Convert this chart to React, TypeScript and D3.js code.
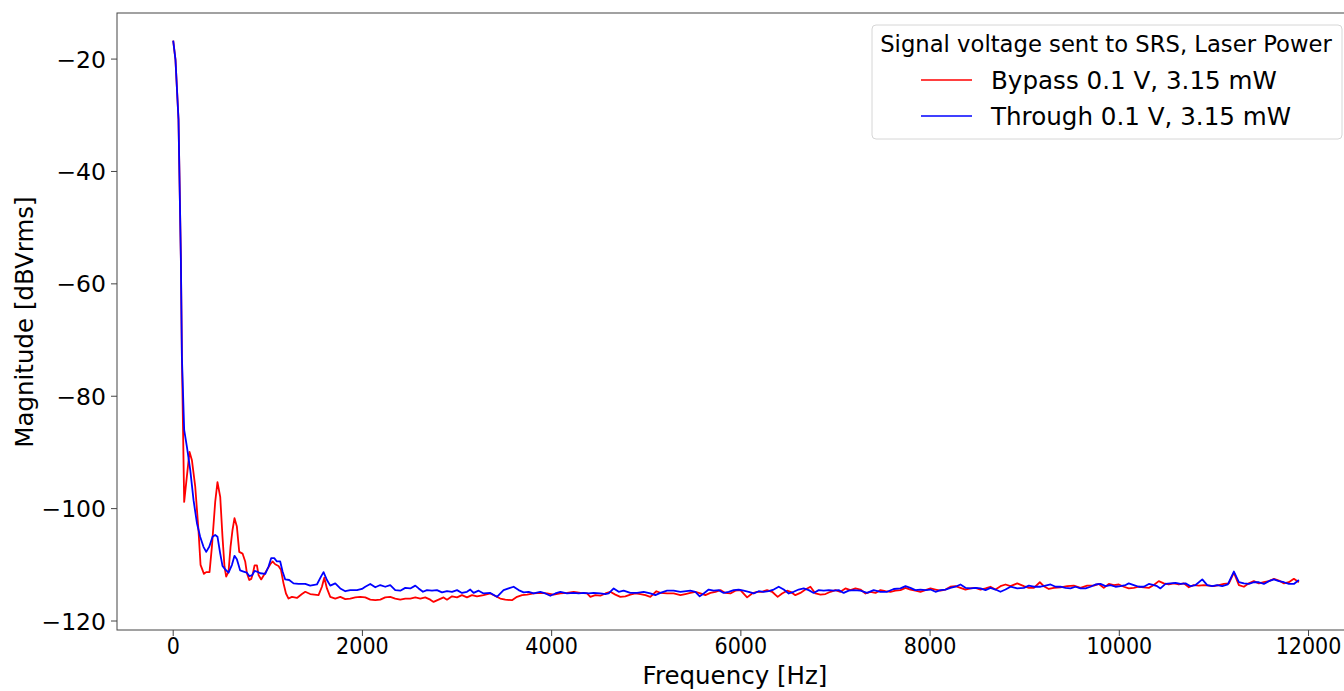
import React from "react";
import * as d3 from "d3";

// ---- data ----
const bypassFreq = [
  0, 24, 56, 81, 92, 116, 172, 198, 233, 267, 289, 325, 349, 384, 409, 444, 468, 497, 521, 542, 560, 585, 606, 627, 648, 673, 698, 733, 761, 779, 804, 825, 843, 860, 885, 902, 930, 959, 991, 1026, 1050, 1078, 1113, 1139, 1166, 1192, 1219, 1255, 1308, 1361, 1396,
  1448, 1536, 1572, 1597, 1625, 1660, 1713, 1766, 1819, 1871, 1924, 1977, 2030, 2083, 2136, 2189, 2241, 2294, 2347, 2400, 2453, 2506, 2559, 2612, 2664, 2717, 2752, 2805, 2858, 2894, 2947, 3000, 3052, 3105, 3158, 3211, 3281, 3352,
  3457, 3510, 3581, 3634, 3687, 3740, 3810, 3880, 3951, 4021, 4092, 4163, 4233, 4303, 4374, 4409, 4462, 4515, 4568, 4620, 4673, 4726, 4779, 4832, 4885, 4938, 4991, 5043, 5107, 5149, 5220, 5290, 5361,
  5413, 5466, 5519, 5572, 5625, 5678, 5731, 5784, 5836, 5889, 5942, 5995, 6066, 6119, 6171, 6224, 6277, 6330, 6389, 6436, 6489, 6524, 6576, 6629, 6682, 6735, 6788, 6841, 6894, 6947, 7000, 7052, 7105, 7158, 7211, 7264, 7317, 7370, 7423, 7475, 7528, 7581, 7634, 7687, 7740, 7792, 7845, 7898, 7951, 8004, 8057, 8110, 8163, 8215, 8268, 8321, 8374, 8427, 8480, 8533, 8586, 8638, 8691, 8744,
  8797, 8850, 8921, 8991, 9044, 9097, 9160, 9202, 9255, 9308, 9378, 9449, 9519, 9590, 9660, 9731, 9784, 9836, 9889, 9942, 9995, 10048, 10100, 10153, 10206, 10259, 10312, 10365, 10417, 10470, 10523, 10576, 10629, 10682, 10735, 10788, 10841, 10894, 10946, 10999, 11052, 11105, 11158, 11211, 11264, 11317, 11369, 11422, 11475, 11528, 11581, 11634, 11687, 11740, 11792, 11845, 11898,
];
const bypassMag = [
  -16.7, -20.1, -30.7, -55.4, -73, -98.8, -89.9, -91.4, -96.1, -103.8, -110.0, -111.6, -111.3, -111.3, -106.8, -98.8, -95.3, -97.9, -105.0, -110.3, -112.1, -111.2, -106.8, -103.8, -101.7, -103.2, -107.7, -108.0, -109.4, -111.5, -112.7, -112.5, -111.5, -110.1, -110.1, -111.8, -112.6, -111.8, -110.9, -109.9, -109.4, -109.9, -110.2, -110.9, -113.3, -115.1, -116.0, -115.7, -115.9, -115.2, -114.8,
  -115.2, -115.4, -113.9, -112.3, -114.2, -115.7, -116.0, -115.7, -116.1, -116.0, -115.8, -115.7, -115.8, -116.2, -116.3, -116.2, -115.8, -115.7, -116.0, -116.2, -116.0, -116.0, -115.8, -116.0, -115.8, -116.2, -116.6, -116.2, -115.8, -116.2, -115.6, -115.8, -115.4, -115.8, -115.4, -115.6, -115.4, -115.1,
  -116.0, -116.2, -116.3, -115.7, -115.4, -115.3, -115.1, -115.0, -115.1, -115.3, -115.1, -115.0, -114.8, -115.0, -115.1, -115.7, -115.4, -115.5, -115.1, -114.8, -115.3, -115.7, -115.6, -115.3, -115.1, -115.2, -115.4, -115.7, -114.7, -115.0, -115.1, -115.1, -115.4,
  -115.2, -115.0, -114.8, -115.1, -115.4, -115.0, -114.8, -114.5, -115.0, -115.1, -114.6, -114.5, -115.8, -115.1, -114.8, -114.8, -114.5, -114.8, -115.7, -115.1, -114.6, -114.8, -115.4, -115.0, -114.4, -113.9, -115.1, -115.3, -115.2, -114.8, -114.5, -114.8, -114.2, -114.5, -114.2, -114.4, -115.1, -114.8, -115.0, -114.5, -114.7, -114.8, -114.6, -114.5, -114.1, -114.4, -114.6, -114.8, -114.5, -114.2, -114.4, -114.6, -114.4, -113.9, -113.8, -114.1, -114.4, -114.2, -114.1, -114.4, -114.2, -113.9, -114.4, -113.8,
  -113.5, -113.8, -113.3, -113.8, -114.1, -114.1, -113.1, -113.8, -114.3, -114.1, -114.0, -113.8, -113.7, -114.1, -113.7, -113.7, -113.4, -114.1, -113.4, -113.6, -113.5, -113.9, -114.2, -114.1, -113.9, -114.0, -114.1, -113.6, -112.9, -113.3, -113.5, -113.3, -113.5, -113.3, -114.0, -113.6, -113.7, -113.6, -113.7, -113.8, -113.6, -113.4, -113.3, -111.4, -113.6, -113.9, -113.3, -112.9, -113.3, -113.1, -112.9, -112.5, -112.8, -113.3, -113.1, -112.5, -113.1,
];

const throughFreq = [
  0, 24, 56, 81, 92, 116, 145, 180, 215, 251, 285, 320, 349, 381, 416, 444, 468, 497, 521, 550, 585, 621, 648, 673, 708, 743, 779, 804, 832, 860, 885, 920, 973, 1008, 1036, 1068, 1096, 1131, 1156, 1184, 1226, 1272, 1325, 1396,
  1448, 1519, 1562, 1589, 1625, 1660, 1713, 1766, 1819, 1871, 1942, 1995, 2030, 2083, 2136, 2189, 2241, 2294, 2347, 2400, 2453, 2506, 2559, 2594, 2640, 2682, 2735, 2788, 2841, 2894, 2947, 3000, 3052, 3105, 3140, 3175, 3228, 3281, 3352,
  3422, 3492, 3545, 3598, 3651, 3704, 3757, 3810, 3880, 3933, 3986, 4039, 4092, 4163, 4233, 4286, 4338, 4391, 4444, 4515, 4568, 4603, 4656, 4709, 4761, 4832, 4903, 4973, 5043, 5096, 5149, 5220, 5290, 5361,
  5466, 5519, 5565, 5607, 5660, 5713, 5766, 5818, 5871, 5924, 5977, 6030, 6083, 6136, 6188, 6241, 6294, 6347, 6400, 6453, 6506, 6558, 6611, 6664, 6717, 6770, 6823, 6876, 6929, 6982, 7034, 7087, 7140, 7193, 7264, 7334, 7404, 7475, 7546, 7616, 7687, 7740, 7792, 7845, 7898, 7951, 8004, 8057, 8110, 8163, 8215, 8268, 8321, 8374, 8427, 8480, 8533, 8586, 8638, 8691, 8744,
  8797, 8850, 8921, 8991, 9044, 9097, 9167, 9220, 9273, 9326, 9378, 9431, 9484, 9537, 9590, 9643, 9696, 9748, 9801, 9854, 9907, 9960, 10013, 10066, 10100, 10153, 10206, 10259, 10312, 10365, 10400, 10435, 10488, 10541, 10594, 10647, 10700, 10753, 10806, 10877, 10929, 10982, 11035, 11088, 11147, 11211, 11264, 11317, 11369, 11422, 11475, 11528, 11581, 11634, 11687, 11740, 11792, 11845, 11898,
];
const throughMag = [
  -16.7, -20.1, -30.7, -55.4, -73, -86.0, -89.0, -93.1, -98.5, -102.6, -105.0, -106.8, -107.7, -106.8, -105.0, -104.7, -105.0, -108.0, -110.2, -110.8, -111.4, -110.0, -108.4, -109.0, -111.0, -111.2, -111.4, -112.0, -111.9, -111.1, -111.2, -111.5, -111.6, -110.3, -108.8, -108.8, -109.4, -109.4, -111.2, -112.6, -112.7, -113.3, -113.4, -113.4,
  -113.7, -113.5, -112.1, -111.3, -112.7, -113.7, -113.3, -114.2, -114.7, -114.5, -114.5, -114.3, -113.9, -113.4, -114.0, -113.6, -113.9, -113.6, -114.5, -114.6, -114.1, -114.2, -113.7, -114.2, -114.8, -114.5, -114.6, -114.5, -114.9, -114.7, -114.8, -114.5, -115.0, -114.8, -114.4, -115.0, -114.6, -115.1, -115.0,
  -115.7, -114.5, -114.2, -113.9, -114.5, -114.9, -114.8, -115.1, -114.8, -115.1, -115.5, -115.1, -114.8, -115.1, -115.0, -115.1, -115.0, -115.1, -115.0, -115.1, -115.2, -115.1, -114.2, -114.8, -114.6, -115.0, -115.0, -114.8, -115.1, -115.4, -115.0, -114.6, -114.6, -114.8,
  -114.6, -114.8, -115.6, -115.1, -114.4, -114.6, -114.5, -115.0, -114.8, -114.5, -114.4, -114.6, -114.8, -115.1, -114.7, -114.8, -114.7, -114.4, -113.9, -114.4, -115.1, -114.8, -114.4, -114.2, -114.5, -115.0, -114.5, -114.6, -114.5, -114.6, -114.5, -115.0, -114.6, -114.5, -114.6, -115.0, -114.5, -114.8, -114.8, -114.3, -114.2, -113.8, -114.1, -114.5, -114.4, -114.5, -114.4, -114.8, -114.5, -114.4, -114.1, -113.9, -113.5, -114.1, -114.2, -114.1, -114.2, -114.5, -114.1, -114.4, -114.8,
  -114.4, -113.9, -114.2, -114.1, -113.7, -113.9, -113.9, -113.7, -113.5, -113.9, -113.9, -114.1, -114.2, -113.9, -114.2, -114.2, -113.9, -113.5, -113.4, -113.8, -113.6, -113.9, -113.8, -113.6, -113.3, -113.6, -113.9, -113.9, -113.4, -113.6, -113.8, -114.2, -113.4, -113.3, -113.2, -113.4, -113.3, -113.8, -113.6, -112.6, -113.6, -113.8, -113.6, -113.8, -113.5, -111.2, -113.1, -113.3, -113.4, -113.1, -113.1, -113.4, -112.9, -112.6, -112.9, -113.1, -113.4, -113.4, -112.7,
];

const xTicks = [0, 2000, 4000, 6000, 8000, 10000, 12000];
const yTicks = [-20, -40, -60, -80, -100, -120];
const legendTitle = "Signal voltage sent to SRS, Laser Power";
const seriesNames = ["Bypass 0.1 V, 3.15 mW", "Through 0.1 V, 3.15 mW"];
const seriesColors = ["#ff0000", "#0000ff"];

const W = 1344;
const H = 691;
const L = 117, R = 1353, T = 13, B = 630;
const FONT = "'DejaVu Sans', sans-serif";

export default function App() {
  const x = d3.scaleLinear().domain([-594, 12470]).range([L, R]);
  const y = d3.scaleLinear().domain([-121.6, -11.8]).range([B, T]);
  const line = d3
    .line<[number, number]>()
    .x((d) => x(d[0]))
    .y((d) => y(d[1]));
  const series = [
    bypassFreq.map((f, i) => [f, bypassMag[i]] as [number, number]),
    throughFreq.map((f, i) => [f, throughMag[i]] as [number, number]),
  ];
  const minus = (v: number) => (v < 0 ? "\u2212" + Math.abs(v) : String(v));

  return (
    <svg
      width={W}
      height={H}
      style={{ position: "absolute", left: 0, top: 0, background: "#fff" }}
      fontFamily={FONT}
    >
      <defs>
        <clipPath id="plot">
          <rect x={L} y={T} width={R - L} height={B - T} />
        </clipPath>
      </defs>
      <rect x={0} y={0} width={W} height={H} fill="#fff" />
      <g clipPath="url(#plot)">
        {series.map((s, i) => (
          <path
            key={i}
            d={line(s) || ""}
            fill="none"
            stroke={seriesColors[i]}
            strokeWidth={1.8}
            strokeLinejoin="round"
          />
        ))}
      </g>
      {/* spines */}
      <rect x={L} y={T} width={R - L} height={B - T} fill="none" stroke="#444" strokeWidth={1} />
      {/* x ticks */}
      {xTicks.map((t) => (
        <g key={t}>
          <line x1={x(t)} x2={x(t)} y1={B} y2={B + 6} stroke="#444" strokeWidth={1} />
          <text
            transform={`translate(${x(t)}, ${B + 24}) scale(0.88, 1)`}
            textAnchor="middle"
            fontSize={23.5}
            fill="#000"
          >
            {minus(t)}
          </text>
        </g>
      ))}
      {/* y ticks */}
      {yTicks.map((t) => (
        <g key={t}>
          <line x1={L - 6} x2={L} y1={y(t)} y2={y(t)} stroke="#444" strokeWidth={1} />
          <text x={L - 11} y={y(t) + 8.5} textAnchor="end" fontSize={23.5} fill="#000">
            {minus(t)}
          </text>
        </g>
      ))}
      <text x={735} y={684} textAnchor="middle" fontSize={24.5} fill="#000">
        Frequency [Hz]
      </text>
      <text
        transform={`translate(33, 322) rotate(-90)`}
        textAnchor="middle"
        fontSize={24.5}
        fill="#000"
      >
        Magnitude [dBVrms]
      </text>
      {/* legend */}
      <g>
        <rect x={872} y={25} width={470} height={114} rx={4} fill="#fff" fillOpacity={0.8} stroke="#d6d6d6" strokeWidth={1} />
        <text x={1106} y={52} textAnchor="middle" fontSize={22.7} fill="#000">
          {legendTitle}
        </text>
        {seriesNames.map((n, i) => (
          <g key={n}>
            <line x1={921} x2={972} y1={80 + i * 36} y2={80 + i * 36} stroke={seriesColors[i]} strokeWidth={1.5} />
            <text x={991} y={89 + i * 36} fontSize={24.6} fill="#000">
              {n}
            </text>
          </g>
        ))}
      </g>
    </svg>
  );
}
